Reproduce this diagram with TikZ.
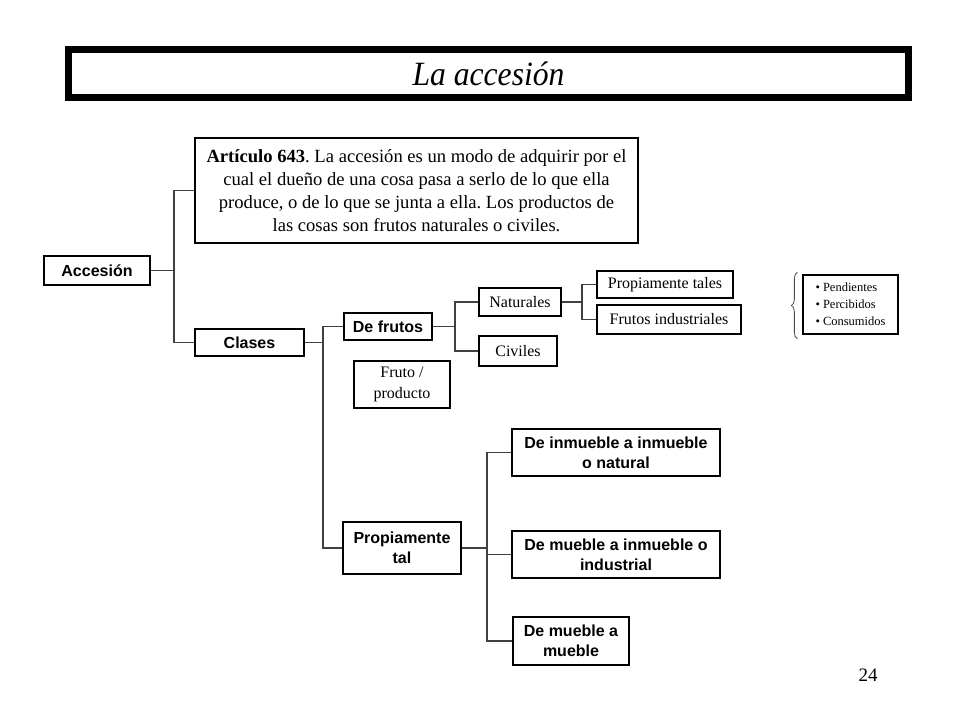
\documentclass[tikz,border=0pt]{standalone}
\usepackage{fontspec}
\setmainfont{Liberation Serif}
\setsansfont{Liberation Sans}
\newfontfamily\titlefont[FakeStretch=0.93]{Liberation Serif}
\usetikzlibrary{decorations.pathreplacing}
\frenchspacing
\begin{document}
\begin{tikzpicture}[x=1pt,y=-1pt,
  box/.style={draw, line width=1.3pt, inner sep=2pt, align=center},
  sbox/.style={box, font=\sffamily\bfseries\fontsize{16}{20}\selectfont},
  rbox/.style={box, font=\fontsize{16}{21}\selectfont},
  conn/.style={line width=1.4pt, draw=black!75}]
\useasboundingbox[fill=white] (0,0) rectangle (960,720);
% title
\node[draw, line width=7pt, minimum width=840pt, minimum height=48pt, font=\titlefont\itshape\fontsize{34}{40}\selectfont] (title) at (488.5,73.5) {La accesión};
% article
\node[draw, line width=2pt, minimum width=443pt, minimum height=105pt, align=center, font=\fontsize{18.6}{23}\selectfont] (art) at (416.5,190.5)
 {\textbf{Artículo 643}. La accesión es un modo de adquirir por el\\
  cual el dueño de una cosa pasa a serlo de lo que ella\\
  produce, o de lo que se junta a ella. Los productos de\\
  las cosas son frutos naturales o civiles.};
\node[sbox, minimum width=106pt, minimum height=29pt] (acc) at (97,270.5) {Accesión};
\node[sbox, minimum width=109pt, minimum height=27pt] (clases) at (249.5,342.5) {Clases};
\node[sbox, minimum width=88pt, minimum height=27pt] (defrutos) at (388,326.5) {De frutos};
\node[rbox, minimum width=96pt, minimum height=47pt] (fruto) at (402,384.5) {Fruto /\\producto};
\node[sbox, minimum width=118pt, minimum height=52pt] (prop) at (402,548) {Propiamente\\tal};
\node[rbox, minimum width=82pt, minimum height=28pt] (nat) at (520,302) {Naturales};
\node[rbox, minimum width=78pt, minimum height=30pt] (civ) at (518,351) {Civiles};
\node[rbox, minimum width=136pt, minimum height=27pt] (pt) at (665,284.5) {Propiamente tales};
\node[rbox, minimum width=144pt, minimum height=29pt] (fi) at (669,319.5) {Frutos industriales};
\node[box, minimum width=95pt, minimum height=59pt, inner sep=4pt, align=left, font=\fontsize{12.5}{17}\selectfont] (list) at (850.5,304.5)
 {• Pendientes\\• Percibidos\\• Consumidos};
\node[sbox, minimum width=208pt, minimum height=47pt] (inm) at (616,452.5) {De inmueble a inmueble\\o natural};
\node[sbox, minimum width=208pt, minimum height=47pt] (mue) at (616,554.5) {De mueble a inmueble o\\industrial};
\node[sbox, minimum width=116pt, minimum height=48pt] (mm) at (571,641) {De mueble a\\mueble};
\node[font=\fontsize{19}{22}\selectfont] (pg) at (868,675) {24};
% junctions
\coordinate (j1) at (174,270.5);
\coordinate (j2) at (323,342.5);
\coordinate (j3) at (455,326.5);
\coordinate (j4) at (582,302);
\coordinate (j5) at (487,548);
\draw[conn] (acc.east) -- (j1);
\draw[conn] (art.west) -| (j1) |- (clases.west);
\draw[conn] (clases.east) -- (j2);
\draw[conn] (defrutos.west) -| (j2) |- (prop.west);
\draw[conn] (defrutos.east) -- (j3);
\draw[conn] (nat.west) -| (j3) |- (civ.west);
\draw[conn] (nat.east) -- (j4);
\draw[conn] (pt.west) -| (j4) |- (fi.west);
\draw[conn] (prop.east) -- (j5);
\draw[conn] (inm.west) -| (j5) |- (mm.west);
\draw[conn] (j5 |- mue.west) -- (mue.west);
% brace
\draw[draw=black!70, line width=0.8pt, decorate, decoration={brace, amplitude=6pt}]
  ([xshift=-5pt,yshift=-4pt]list.south west) -- ([xshift=-5pt,yshift=2pt]list.north west);
\end{tikzpicture}
\end{document}
